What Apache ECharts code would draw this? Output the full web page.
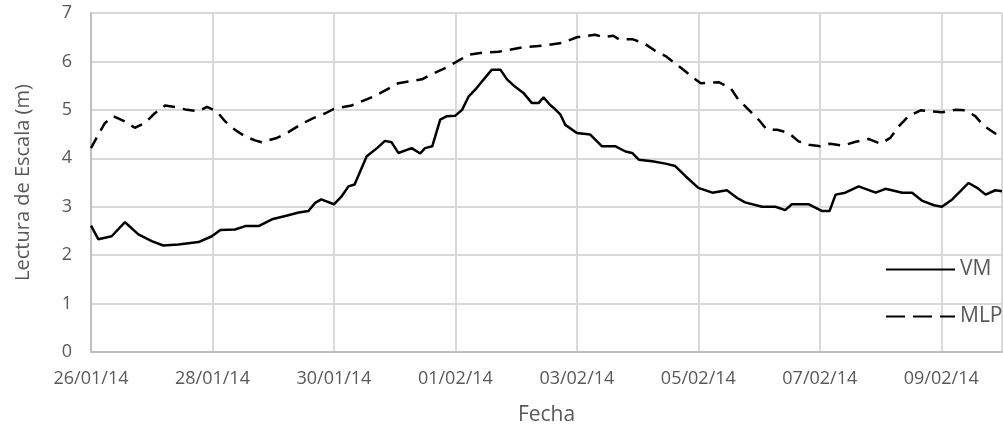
<!DOCTYPE html>
<html>
<head>
<meta charset="utf-8">
<title>Lectura de Escala</title>
<script src="https://cdn.jsdelivr.net/npm/echarts@6/dist/echarts.min.js"></script>
<style>
  html, body { margin: 0; padding: 0; background: #fff; }
  #chart { width: 1003px; height: 431px; }
</style>
</head>
<body>
<div id="chart"></div>
<script>
  // etiquetas del eje x (cada 2 días desde 26/01/14)
  const fechas = ['26/01/14', '28/01/14', '30/01/14', '01/02/14', '03/02/14', '05/02/14', '07/02/14', '09/02/14'];

  // VM: días desde 26/01/14 y lectura de escala (m)
  const vmDias = [0, 0.12, 0.34, 0.56, 0.78, 1.0, 1.19, 1.44, 1.77, 1.99, 2.13, 2.37, 2.54, 2.76, 2.98, 3.2, 3.42, 3.58, 3.69, 3.79,
    4.0, 4.13, 4.24, 4.34, 4.54, 4.71, 4.84, 4.95, 5.06, 5.28, 5.42, 5.5, 5.62, 5.75, 5.86, 6.0, 6.11, 6.22, 6.35, 6.46,
    6.6, 6.74, 6.85, 6.98, 7.12, 7.26, 7.37, 7.45, 7.56, 7.62, 7.73, 7.81, 8.0, 8.22, 8.41, 8.63, 8.8, 8.91, 9.02, 9.24,
    9.46, 9.62, 9.79, 10.0, 10.23, 10.47, 10.64, 10.77, 11.05, 11.27, 11.43, 11.54, 11.82, 12.04, 12.16, 12.26, 12.42, 12.64, 12.92, 13.08,
    13.36, 13.52, 13.69, 13.88, 14.01, 14.18, 14.45, 14.59, 14.73, 14.89, 15.0];
  const vmLectura = [2.61, 2.33, 2.39, 2.68, 2.43, 2.29, 2.20, 2.22, 2.27, 2.39, 2.52, 2.53, 2.60, 2.60, 2.74, 2.81, 2.88, 2.91, 3.08, 3.15,
    3.05, 3.22, 3.42, 3.46, 4.04, 4.21, 4.36, 4.33, 4.11, 4.21, 4.10, 4.21, 4.25, 4.80, 4.87, 4.88, 5.00, 5.28, 5.45, 5.62,
    5.83, 5.83, 5.63, 5.48, 5.35, 5.14, 5.14, 5.26, 5.10, 5.04, 4.90, 4.69, 4.52, 4.49, 4.25, 4.25, 4.14, 4.11, 3.97, 3.94,
    3.89, 3.84, 3.63, 3.39, 3.29, 3.34, 3.18, 3.09, 3.00, 3.00, 2.93, 3.05, 3.05, 2.91, 2.91, 3.25, 3.29, 3.42, 3.29, 3.37,
    3.29, 3.29, 3.12, 3.03, 3.00, 3.15, 3.49, 3.39, 3.25, 3.34, 3.32];

  // MLP
  const mlpDias = [0, 0.12, 0.23, 0.37, 0.56, 0.72, 0.89, 1.05, 1.22, 1.38, 1.58, 1.77, 1.91, 2.07, 2.21, 2.37, 2.54, 2.7, 2.81, 3.06,
    3.25, 3.47, 3.66, 3.86, 4.0, 4.29, 4.68, 5.06, 5.45, 5.58, 5.83, 6.0, 6.22, 6.44, 6.71, 7.1, 7.48, 7.75, 8.0, 8.17,
    8.3, 8.44, 8.6, 8.69, 8.91, 9.1, 9.29, 9.46, 9.62, 9.79, 9.92, 10.04, 10.34, 10.53, 10.66, 10.83, 10.99, 11.13, 11.3, 11.49,
    11.65, 11.82, 12.01, 12.17, 12.37, 12.59, 12.8, 13.0, 13.16, 13.3, 13.46, 13.66, 13.85, 14.01, 14.23, 14.4, 14.56, 14.7, 14.89, 15.0];
  const mlpLectura = [4.21, 4.49, 4.73, 4.87, 4.76, 4.63, 4.73, 4.93, 5.09, 5.06, 5.00, 4.97, 5.06, 4.97, 4.76, 4.59, 4.45, 4.37, 4.33, 4.42,
    4.54, 4.71, 4.83, 4.93, 5.02, 5.09, 5.29, 5.55, 5.63, 5.72, 5.86, 5.98, 6.14, 6.18, 6.20, 6.29, 6.33, 6.38, 6.50, 6.53,
    6.55, 6.50, 6.53, 6.46, 6.46, 6.38, 6.22, 6.11, 5.96, 5.79, 5.66, 5.55, 5.57, 5.45, 5.21, 5.00, 4.80, 4.59, 4.59, 4.52,
    4.35, 4.28, 4.25, 4.30, 4.26, 4.34, 4.40, 4.30, 4.42, 4.66, 4.87, 4.99, 4.97, 4.95, 5.00, 4.99, 4.87, 4.67, 4.51, 4.47];

  const fuente = '"Open Sans", sans-serif';
  const gris = '#595959';

  const chart = echarts.init(document.getElementById('chart'));
  const option = {
    animation: false,
    textStyle: { fontFamily: fuente },
    grid: { left: 91, right: 1, top: 13, bottom: 78 },
    legend: {
      orient: 'vertical',
      left: 880,
      top: 254,
      itemWidth: 69,
      itemHeight: 20,
      itemGap: 26,
      // sin símbolo en la leyenda, solo la línea
      itemStyle: { color: 'transparent', borderColor: 'transparent', borderWidth: 0, opacity: 0 },
      textStyle: { color: gris, fontSize: 21, fontFamily: fuente },
      data: [
        { name: 'VM' },
        { name: 'MLP', lineStyle: { type: [19, 8] } }
      ]
    },
    xAxis: {
      type: 'value',
      min: 0,
      max: 15,
      interval: 2,
      name: 'Fecha',
      nameLocation: 'middle',
      nameGap: 53,
      nameTextStyle: { color: gris, fontSize: 21 },
      axisLine: { show: true, lineStyle: { color: '#bfbfbf', width: 2 } },
      axisTick: { show: false },
      axisLabel: {
        color: gris,
        fontSize: 18,
        margin: 18,
        showMaxLabel: false,
        formatter: (v) => fechas[v / 2] || ''
      },
      splitLine: { show: true, lineStyle: { color: '#d9d9d9', width: 2 } }
    },
    yAxis: {
      type: 'value',
      min: 0,
      max: 7,
      interval: 1,
      name: 'Lectura de Escala (m)',
      nameLocation: 'middle',
      nameGap: 58,
      nameTextStyle: { color: gris, fontSize: 20 },
      axisLine: { show: true, lineStyle: { color: '#bfbfbf', width: 2 } },
      axisTick: { show: false },
      axisLabel: { color: gris, fontSize: 18, margin: 19 },
      splitLine: { lineStyle: { color: '#d9d9d9', width: 2 } }
    },
    series: [
      {
        name: 'VM',
        type: 'line',
        symbol: 'none',
        data: vmDias.map((d, i) => [d, vmLectura[i]]),
        lineStyle: { color: '#000', width: 2.5 },
        itemStyle: { color: '#000' }
      },
      {
        name: 'MLP',
        type: 'line',
        symbol: 'none',
        data: mlpDias.map((d, i) => [d, mlpLectura[i]]),
        lineStyle: { color: '#000', width: 2.5, type: [12, 8] },
        itemStyle: { color: '#000' }
      }
    ]
  };
  chart.setOption(option);
</script>
</body>
</html>
